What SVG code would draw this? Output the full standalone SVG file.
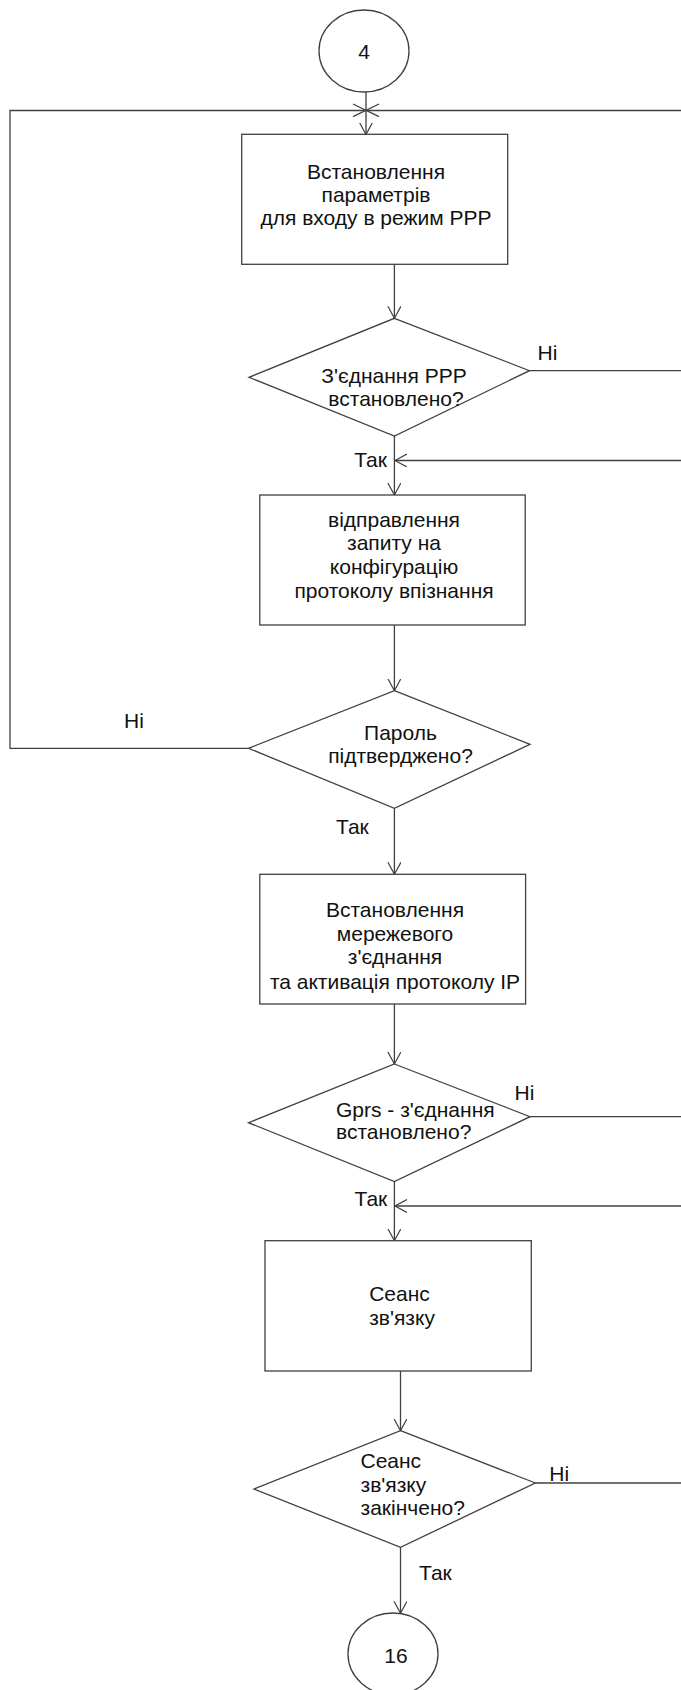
<svg xmlns="http://www.w3.org/2000/svg" width="681" height="1690" viewBox="0 0 681 1690">
<defs>
<marker id="arr" markerWidth="14" markerHeight="14" refX="12" refY="6.5" orient="auto" markerUnits="userSpaceOnUse">
<path d="M0,0 L12,6.5 L0,13" fill="none" stroke="#404040" stroke-width="1.2"/>
</marker>
<style>
.s{fill:#fff;stroke:#404040;stroke-width:1.3}
.c{fill:none;stroke:#404040;stroke-width:1.3}
text{font-family:"Liberation Sans",Arial,sans-serif;font-size:21px;fill:#111}
.m{text-anchor:middle}
.e{text-anchor:end}
</style>
</defs>
<rect width="681" height="1690" fill="#fff"/>

<g id="connectors">
<line class="c" x1="366" y1="92" x2="366" y2="134.5" marker-end="url(#arr)"/>
<polyline class="c" points="681,110.5 10,110.5 10,748.3 248.5,748.3"/>
<line class="c" x1="353" y1="104" x2="379" y2="116.7"/>
<line class="c" x1="353" y1="116.7" x2="379" y2="104"/>
<line class="c" x1="394.4" y1="264.3" x2="394.4" y2="318.3" marker-end="url(#arr)"/>
<line class="c" x1="530" y1="370.7" x2="681" y2="370.7"/>
<line class="c" x1="681" y1="460.5" x2="395" y2="460.5" marker-end="url(#arr)"/>
<line class="c" x1="394.4" y1="436" x2="394.4" y2="495" marker-end="url(#arr)"/>
<line class="c" x1="394.4" y1="625" x2="394.4" y2="690.7" marker-end="url(#arr)"/>
<line class="c" x1="394.4" y1="808.3" x2="394.4" y2="874.3" marker-end="url(#arr)"/>
<line class="c" x1="394.4" y1="1004" x2="394.4" y2="1064" marker-end="url(#arr)"/>
<line class="c" x1="530" y1="1116.7" x2="681" y2="1116.7"/>
<line class="c" x1="681" y1="1206" x2="395" y2="1206" marker-end="url(#arr)"/>
<line class="c" x1="394.4" y1="1181.5" x2="394.4" y2="1240.7" marker-end="url(#arr)"/>
<line class="c" x1="400.5" y1="1371" x2="400.5" y2="1430.7" marker-end="url(#arr)"/>
<line class="c" x1="535.3" y1="1483" x2="681" y2="1483"/>
<line class="c" x1="400.5" y1="1547.3" x2="400.5" y2="1613.3" marker-end="url(#arr)"/>
<text x="537.5" y="359.5">Ні</text>
<text class="e" x="387" y="467">Так</text>
<text x="124" y="727.5">Ні</text>
<text x="336" y="833.7">Так</text>
<text x="514.5" y="1100">Ні</text>
<text class="e" x="387.3" y="1205.7">Так</text>
<text x="549.3" y="1481">Ні</text>
<text x="419" y="1579.7">Так</text>
</g>

<g id="start">
<ellipse class="s" cx="364" cy="51" rx="45" ry="41"/>
<text class="m" x="364" y="58.5">4</text>
</g>

<g id="box1">
<rect class="s" x="241.7" y="134.3" width="266" height="130"/>
<text class="m" x="376" y="179">Встановлення</text>
<text class="m" x="376" y="201.5">параметрів</text>
<text class="m" x="376" y="224.5">для входу в режим PPP</text>
</g>

<g id="dec1">
<polygon class="s" points="394.4,318.3 529.5,370.7 394.4,436 249,377.3"/>
<text class="m" x="394" y="383">З'єднання PPP</text>
<text class="m" x="396" y="406">встановлено?</text>
</g>

<g id="box2">
<rect class="s" x="259.8" y="495" width="265.4" height="130"/>
<text class="m" x="394" y="527">відправлення</text>
<text class="m" x="394" y="550">запиту на</text>
<text class="m" x="394" y="573.5">конфігурацію</text>
<text class="m" x="394" y="597.5">протоколу впізнання</text>
</g>

<g id="dec2">
<polygon class="s" points="394.4,690.7 530,744.3 394.4,808.3 248.5,748.3"/>
<text class="m" x="400.5" y="740.3">Пароль</text>
<text class="m" x="400.5" y="763">підтверджено?</text>
</g>

<g id="box3">
<rect class="s" x="259.8" y="874.3" width="265.8" height="129.7"/>
<text class="m" x="395" y="917">Встановлення</text>
<text class="m" x="395" y="941">мережевого</text>
<text class="m" x="395" y="963.7">з'єднання</text>
<text class="m" x="395" y="988.7">та активація протоколу IP</text>
</g>

<g id="dec3">
<polygon class="s" points="394.4,1064 530,1116.7 394.4,1181.5 248.5,1122.7"/>
<text x="336" y="1117">Gprs - з'єднання</text>
<text x="336" y="1139">встановлено?</text>
</g>

<g id="box4">
<rect class="s" x="265" y="1240.7" width="266.3" height="130.3"/>
<text x="369.2" y="1301.3">Сеанс</text>
<text x="369.2" y="1325">зв'язку</text>
</g>

<g id="dec4">
<polygon class="s" points="400.5,1430.7 535.3,1483 400.5,1547.3 254.1,1489"/>
<text x="360.5" y="1468">Сеанс</text>
<text x="360.5" y="1492">зв'язку</text>
<text x="360.5" y="1514.5">закінчено?</text>
</g>

<g id="end">
<ellipse class="s" cx="393" cy="1654" rx="45" ry="41"/>
<text class="m" x="396" y="1662.5">16</text>
</g>
</svg>
